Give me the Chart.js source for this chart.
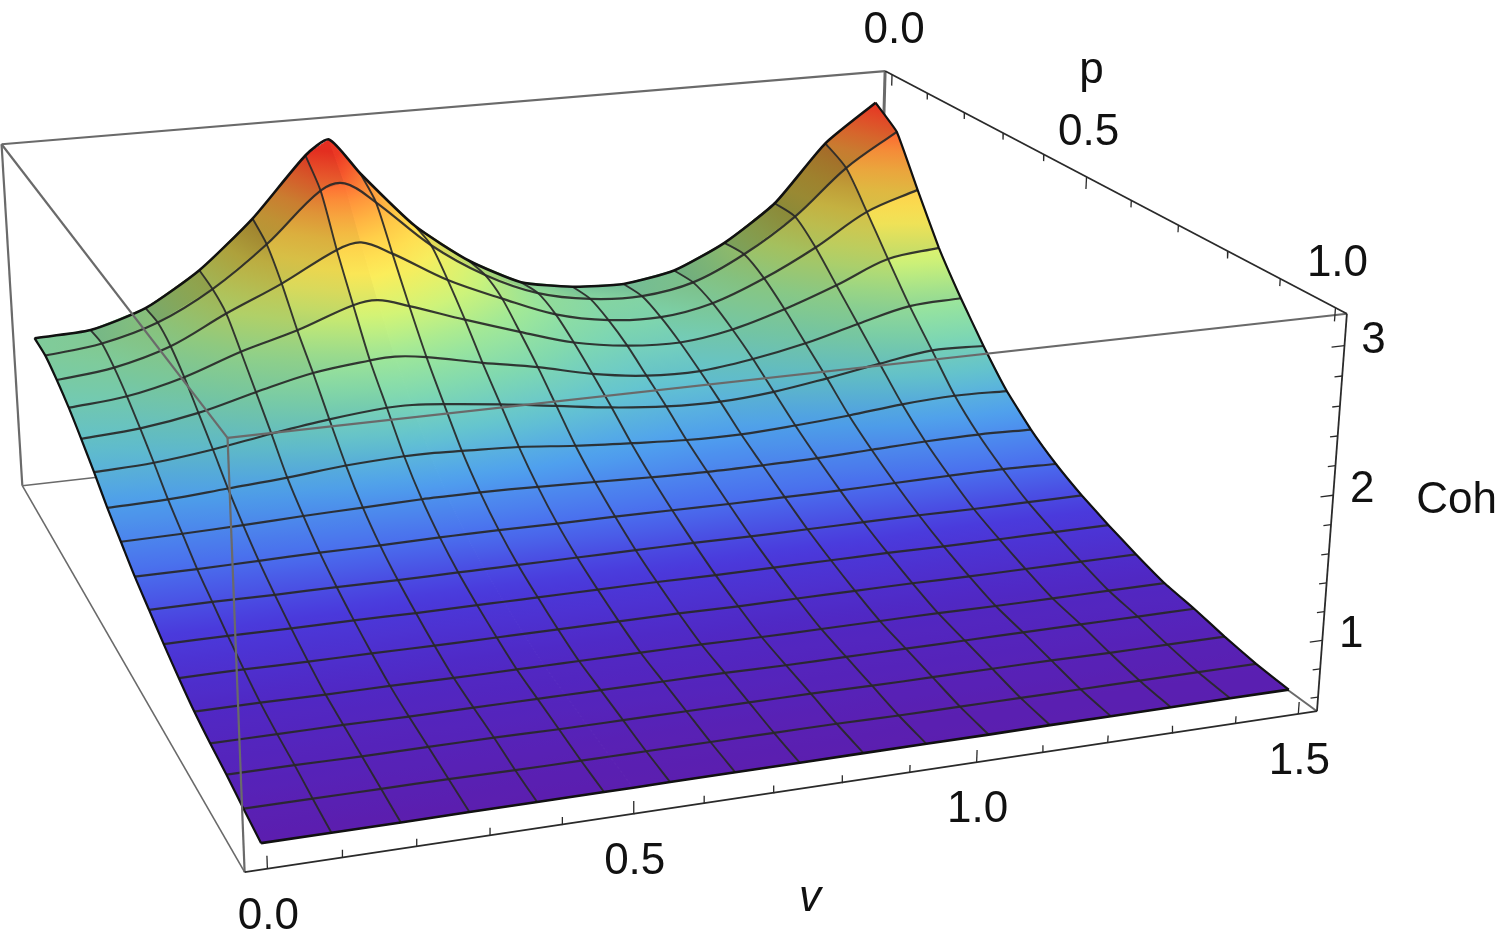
<!DOCTYPE html>
<html>
<head>
<meta charset="utf-8">
<title>Coh(v, p)</title>
<script src="https://cdn.jsdelivr.net/npm/chart.js@4"></script>
<style>
html, body { margin: 0; padding: 0; background: #fff; }
canvas { display: block; }
</style>
</head>
<body>
<canvas id="surface" width="1500" height="941"></canvas>
<script>
// surface samples
// v = 0.51 is one extra column (the top of the first ridge), it has no mesh line
var vGrid = [0, 0.09375, 0.1875, 0.28125, 0.375, 0.46875, 0.51, 0.5625, 0.65625, 0.75, 0.84375, 0.9375, 1.03125, 1.125, 1.21875, 1.3125, 1.40625, 1.5];
var pGrid = [0, 0.0625, 0.125, 0.1875, 0.25, 0.3125, 0.375, 0.4375, 0.5, 0.5625, 0.625, 0.6875, 0.75, 0.8125, 0.875, 0.9375, 1];
var noMeshColumn = 6;

var row0 = [1.72, 1.74, 1.87, 2.13, 2.50, 2.96, 3.07, 2.78, 2.32, 2.00, 1.78, 1.70, 1.68, 1.75, 1.94, 2.23, 2.69, 2.99];
var row1 = [1.71, 1.76, 1.88, 2.10, 2.41, 2.79, 2.83, 2.66, 2.28, 2.00, 1.81, 1.72, 1.70, 1.77, 1.96, 2.23, 2.59, 2.85];
var row2 = [1.65, 1.70, 1.82, 2.03, 2.22, 2.44, 2.48, 2.37, 2.12, 1.93, 1.76, 1.67, 1.65, 1.72, 1.88, 2.09, 2.34, 2.48];
var row3 = [1.57, 1.61, 1.71, 1.86, 1.98, 2.13, 2.15, 2.08, 1.93, 1.79, 1.66, 1.59, 1.57, 1.63, 1.75, 1.90, 2.07, 2.12];
var row4 = [1.47, 1.50, 1.57, 1.68, 1.78, 1.83, 1.84, 1.81, 1.72, 1.64, 1.54, 1.48, 1.47, 1.52, 1.60, 1.71, 1.81, 1.83];
var row5 = [1.36, 1.38, 1.43, 1.50, 1.56, 1.60, 1.60, 1.58, 1.53, 1.47, 1.41, 1.37, 1.36, 1.39, 1.45, 1.52, 1.58, 1.57];
var row6 = [1.24, 1.25, 1.28, 1.31, 1.35, 1.37, 1.37, 1.36, 1.34, 1.30, 1.27, 1.245, 1.24, 1.26, 1.29, 1.33, 1.35, 1.34];
var row7 = [1.14, 1.145, 1.155, 1.17, 1.18, 1.19, 1.19, 1.19, 1.18, 1.165, 1.15, 1.14, 1.14, 1.145, 1.16, 1.175, 1.18, 1.17];
var row8 = [1.04, 1.04, 1.045, 1.05, 1.05, 1.055, 1.055, 1.055, 1.05, 1.05, 1.045, 1.04, 1.04, 1.04, 1.045, 1.05, 1.05, 1.04];
var row9 = [0.96, 0.96, 0.955, 0.955, 0.95, 0.95, 0.95, 0.95, 0.95, 0.95, 0.95, 0.945, 0.945, 0.945, 0.945, 0.94, 0.94, 0.94];
var row10 = [0.88, 0.88, 0.875, 0.875, 0.87, 0.87, 0.87, 0.87, 0.87, 0.87, 0.865, 0.865, 0.865, 0.865, 0.86, 0.86, 0.86, 0.86];
var row11 = [0.81, 0.81, 0.805, 0.805, 0.80, 0.80, 0.80, 0.80, 0.80, 0.80, 0.795, 0.795, 0.795, 0.795, 0.79, 0.79, 0.79, 0.79];
var row12 = [0.75, 0.75, 0.745, 0.745, 0.74, 0.74, 0.74, 0.74, 0.74, 0.74, 0.735, 0.735, 0.735, 0.735, 0.73, 0.73, 0.73, 0.73];
var row13 = [0.71, 0.71, 0.71, 0.705, 0.705, 0.705, 0.705, 0.705, 0.705, 0.705, 0.70, 0.70, 0.70, 0.70, 0.70, 0.70, 0.70, 0.70];
var row14 = [0.68, 0.68, 0.675, 0.675, 0.675, 0.67, 0.67, 0.67, 0.67, 0.67, 0.67, 0.665, 0.665, 0.665, 0.665, 0.66, 0.66, 0.66];
var row15 = [0.64, 0.64, 0.64, 0.64, 0.635, 0.635, 0.635, 0.635, 0.635, 0.635, 0.635, 0.63, 0.63, 0.63, 0.63, 0.63, 0.63, 0.63];
var row16 = [0.605, 0.605, 0.605, 0.607, 0.607, 0.608, 0.608, 0.61, 0.61, 0.61, 0.612, 0.612, 0.612, 0.615, 0.615, 0.615, 0.617, 0.617];
var cohRows = [row0, row1, row2, row3, row4, row5, row6, row7, row8, row9, row10, row11, row12, row13, row14, row15, row16];

// axis ticks and their labels
var vTicks = [0, 0.1, 0.2, 0.3, 0.4, 0.5, 0.6, 0.7, 0.8, 0.9, 1.0, 1.1, 1.2, 1.3, 1.4, 1.5];
var pTicks = [0, 0.1, 0.2, 0.3, 0.4, 0.5, 0.6, 0.7, 0.8, 0.9, 1.0];
var cohTicks = [0.6, 0.8, 1.0, 1.2, 1.4, 1.6, 1.8, 2.0, 2.2, 2.4, 2.6, 2.8, 3.0];
var vLabels = [0, 0.5, 1.0, 1.5];
var pLabels = [0, 0.5, 1.0];
var cohLabels = [1, 2, 3];

// plot range of the box
var vRange = [-0.03, 1.53];
var pRange = [-0.02, 1.02];
var cohRange = [0.5, 3.21];

// box corners on screen, [v side, p side, coh side, x, y]; 0 = low end, 1 = high end
var boxCorners = [
    [0, 1, 0, 245, 872],
    [1, 1, 0, 1317, 711],
    [1, 1, 1, 1347, 314],
    [1, 0, 1, 885, 71],
    [0, 0, 1, 2, 144],
    [0, 0, 0, 22, 486],
    [0, 1, 1, 227, 438]
];

// colour by height
var colourZ = [0.55, 0.75, 0.9, 1.05, 1.25, 1.45, 1.65, 1.85, 2.05, 2.3, 2.5, 2.7, 2.85, 3.0];
var colourRGB = [
    [96, 26, 166], [80, 40, 196], [74, 58, 220], [74, 110, 238], [79, 160, 238], [100, 196, 208],
    [128, 216, 176], [160, 232, 152], [208, 244, 120], [255, 236, 88], [255, 205, 72], [255, 154, 60], [255, 100, 48], [245, 50, 35]
];

// fit the camera from the box corners (least squares)
function solveCamera(corners) {
    var n = 11, A = [], b = [], i, j, k;
    for (i = 0; i < n; i++) { A.push(new Array(n).fill(0)); b.push(0); }
    corners.forEach(function (c) {
        var X = c[0], Y = c[1], Z = c[2], x = c[3] / 1000, y = c[4] / 1000;
        var eqs = [
            [[X, Y, Z, 1, 0, 0, 0, 0, -x * X, -x * Y, -x * Z], x],
            [[0, 0, 0, 0, X, Y, Z, 1, -y * X, -y * Y, -y * Z], y]
        ];
        eqs.forEach(function (e) {
            for (i = 0; i < n; i++) {
                for (j = 0; j < n; j++) A[i][j] += e[0][i] * e[0][j];
                b[i] += e[0][i] * e[1];
            }
        });
    });
    for (i = 0; i < n; i++) {
        var best = i;
        for (k = i + 1; k < n; k++) if (Math.abs(A[k][i]) > Math.abs(A[best][i])) best = k;
        var t = A[i]; A[i] = A[best]; A[best] = t;
        t = b[i]; b[i] = b[best]; b[best] = t;
        for (k = i + 1; k < n; k++) {
            var f = A[k][i] / A[i][i];
            for (j = i; j < n; j++) A[k][j] -= f * A[i][j];
            b[k] -= f * b[i];
        }
    }
    var m = new Array(n).fill(0);
    for (i = n - 1; i >= 0; i--) {
        var s = b[i];
        for (j = i + 1; j < n; j++) s -= A[i][j] * m[j];
        m[i] = s / A[i][i];
    }
    return m;
}
var cam = solveCamera(boxCorners);

function project(v, p, z) {
    var X = (v - vRange[0]) / (vRange[1] - vRange[0]);
    var Y = (p - pRange[0]) / (pRange[1] - pRange[0]);
    var Z = (z - cohRange[0]) / (cohRange[1] - cohRange[0]);
    var w = cam[8] * X + cam[9] * Y + cam[10] * Z + 1;
    return {
        x: 1000 * (cam[0] * X + cam[1] * Y + cam[2] * Z + cam[3]) / w,
        y: 1000 * (cam[4] * X + cam[5] * Y + cam[6] * Z + cam[7]) / w
    };
}

function colourAt(z) {
    var i = 0;
    if (z <= colourZ[0]) return colourRGB[0];
    while (i < colourZ.length - 2 && z > colourZ[i + 1]) i++;
    var t = Math.min(1, (z - colourZ[i]) / (colourZ[i + 1] - colourZ[i]));
    return colourRGB[i].map(function (c, n) { return c + (colourRGB[i + 1][n] - c) * t; });
}

// light comes from the right, faces climbing towards high v go dark
function nodeShade(k, j) {
    var row = cohRows[k], last = row.length - 1;
    if (j === last || j === noMeshColumn) return 1 - (k === 0 ? 0.06 : 0);
    var a = Math.max(0, j - 1), b = Math.min(last, j + 1);
    if (a === noMeshColumn) a--;
    if (b === noMeshColumn) b++;
    var slope = (row[b] - row[a]) / (vGrid[b] - vGrid[a]);
    var shade = 1 - 0.08 * Math.max(0, slope);
    if (k < 3) {
        var fall = k < cohRows.length - 1 ? (row[j] - cohRows[k + 1][j]) / 0.0625 : 0;
        shade -= 0.1 * (3 - k) / 3 * Math.max(0, 1 - fall / 2);
    }
    return Math.max(0.5, shade);
}

function rgbString(c, shade) {
    return 'rgb(' + Math.round(c[0] * shade) + ',' + Math.round(c[1] * shade) + ',' + Math.round(c[2] * shade) + ')';
}

// gradient of one mesh cell: follows the height inside the cell
function cellGradient(chart, nodes) {
    var xs = chart.scales.x, ys = chart.scales.y, xc = 0, yc = 0, zc = 0;
    var pts = nodes.map(function (n) {
        var q = project(vGrid[n.j], pGrid[n.k], cohRows[n.k][n.j]);
        return { x: xs.getPixelForValue(q.x), y: ys.getPixelForValue(q.y), z: cohRows[n.k][n.j], s: nodeShade(n.k, n.j) };
    });
    pts.forEach(function (q) { xc += q.x / 4; yc += q.y / 4; zc += q.z / 4; });
    var sxx = 0, sxy = 0, syy = 0, sxz = 0, syz = 0;
    pts.forEach(function (q) {
        var dx = q.x - xc, dy = q.y - yc, dz = q.z - zc;
        sxx += dx * dx; sxy += dx * dy; syy += dy * dy; sxz += dx * dz; syz += dy * dz;
    });
    var det = sxx * syy - sxy * sxy;
    var a = (sxz * syy - syz * sxy) / det, b = (syz * sxx - sxz * sxy) / det;
    var g2 = a * a + b * b;
    var lo = pts[0], hi = pts[0];
    pts.forEach(function (q) { if (q.z < lo.z) lo = q; if (q.z > hi.z) hi = q; });
    if (!(g2 > 1e-12)) return rgbString(colourAt(zc), (lo.s + hi.s) / 2);
    var grad = chart.ctx.createLinearGradient(
        xc + a * (lo.z - zc) / g2, yc + b * (lo.z - zc) / g2,
        xc + a * (hi.z - zc) / g2, yc + b * (hi.z - zc) / g2
    );
    for (var t = 0; t <= 1.001; t += 0.25) {
        var s = Math.min(t, 1);
        grad.addColorStop(s, rgbString(colourAt(lo.z + (hi.z - lo.z) * s), lo.s + (hi.s - lo.s) * s));
    }
    return grad;
}

var datasets = [];

function addLine(points, colour, width, tension) {
    datasets.push({
        data: points, showLine: true, fill: false, pointRadius: 0, clip: false,
        borderColor: colour, borderWidth: width, tension: tension || 0
    });
}

function boxPoint(a, b, c) {
    return project(vRange[a], pRange[b], cohRange[c]);
}

// back edges of the box, behind the surface
var backGrey = '#6a6a6a';
addLine([boxPoint(0, 0, 0), boxPoint(0, 0, 1)], backGrey, 2.2);
addLine([boxPoint(0, 0, 1), boxPoint(1, 0, 1)], backGrey, 2.2);
addLine([boxPoint(1, 0, 1), boxPoint(1, 0, 0)], backGrey, 3);
addLine([boxPoint(0, 0, 0), boxPoint(1, 0, 0)], backGrey, 1.6);
addLine([boxPoint(1, 0, 0), boxPoint(1, 1, 0)], backGrey, 2);
addLine([boxPoint(0, 0, 0), boxPoint(0, 1, 0)], backGrey, 1.6);

// surface cells, far rows first
pGrid.slice(1).forEach(function (pv, k) {
    vGrid.slice(1).forEach(function (vv, j) {
        var nodes = [{ k: k, j: j }, { k: k, j: j + 1 }, { k: k + 1, j: j + 1 }, { k: k + 1, j: j }];
        var pts = nodes.map(function (n) { return project(vGrid[n.j], pGrid[n.k], cohRows[n.k][n.j]); });
        pts.push(pts[0]);
        var paint = function (ctx) { return cellGradient(ctx.chart, nodes); };
        datasets.push({
            data: pts, showLine: true, fill: 'shape', pointRadius: 0, clip: false, tension: 0,
            backgroundColor: paint, borderColor: paint, borderWidth: 1
        });
    });
});

// mesh lines
var meshColour = 'rgba(40,40,40,0.92)';
cohRows.forEach(function (row, k) {
    var pts = row.map(function (z, j) { return project(vGrid[j], pGrid[k], z); });
    if (k > 0 && k < cohRows.length - 1) addLine(pts, meshColour, 2.2, 0.35);
});
vGrid.forEach(function (v, j) {
    if (j === 0 || j === vGrid.length - 1 || j === noMeshColumn) return;
    var pts = cohRows.map(function (row, k) { return project(v, pGrid[k], row[j]); });
    addLine(pts, meshColour, 1.9, 0.25);
});

// outline of the surface
var lastRow = cohRows.length - 1, lastCol = vGrid.length - 1;
addLine(row0.map(function (z, j) { return project(vGrid[j], pGrid[0], z); }), '#111', 2.6, 0.2);
addLine(cohRows[lastRow].map(function (z, j) { return project(vGrid[j], pGrid[lastRow], z); }), '#111', 2.6, 0);
addLine(cohRows.map(function (row, k) { return project(vGrid[0], pGrid[k], row[0]); }), '#111', 2.2, 0.25);
addLine(cohRows.map(function (row, k) { return project(vGrid[lastCol], pGrid[k], row[lastCol]); }), '#111', 2.2, 0.1);

// edges in front of the surface
addLine([boxPoint(0, 0, 1), boxPoint(0, 1, 1)], backGrey, 2.2);
addLine([boxPoint(0, 1, 1), boxPoint(1, 1, 1)], backGrey, 2.2);
addLine([boxPoint(0, 1, 1), boxPoint(0, 1, 0)], backGrey, 2.2);

// the three axes with ticks
var axisColour = '#2a2a2a';
addLine([boxPoint(0, 1, 0), boxPoint(1, 1, 0)], axisColour, 1.8);
addLine([boxPoint(1, 1, 0), boxPoint(1, 1, 1)], axisColour, 1.8);
addLine([boxPoint(1, 1, 1), boxPoint(1, 0, 1)], axisColour, 1.8);
vTicks.forEach(function (v) {
    var len = vLabels.indexOf(v) >= 0 ? 0.085 : 0.05;
    addLine([project(v, pRange[1], cohRange[0]), project(v, pRange[1], cohRange[0] + len)], axisColour, 1.3);
});
pTicks.forEach(function (p) {
    var len = pLabels.indexOf(p) >= 0 ? 0.09 : 0.05;
    addLine([project(vRange[1], p, cohRange[1]), project(vRange[1], p, cohRange[1] - len)], axisColour, 1.3);
});
cohTicks.forEach(function (z) {
    var len = cohLabels.indexOf(z) >= 0 ? 0.02 : 0.012;
    addLine([project(vRange[1], pRange[1], z), project(vRange[1] - len, pRange[1], z)], axisColour, 1.3);
});

// first dataset is painted last, so flip the list
datasets.reverse();

var axisText = {
    id: 'axisText',
    afterDatasetsDraw: function (chart) {
        var ctx = chart.ctx;
        function put(text, pos, dx, dy, italic) {
            ctx.font = (italic ? 'italic ' : '') + '44px "Liberation Sans", Arial, sans-serif';
            ctx.fillText(text, chart.scales.x.getPixelForValue(pos.x) + dx, chart.scales.y.getPixelForValue(pos.y) + dy);
        }
        ctx.save();
        ctx.fillStyle = '#111';
        ctx.textAlign = 'center';
        ctx.textBaseline = 'middle';
        vLabels.forEach(function (v) { put(v.toFixed(1), project(v, pRange[1], cohRange[0]), 1, 48); });
        pLabels.forEach(function (p) { put(p.toFixed(1), project(vRange[1], p, cohRange[1]), 2, -44); });
        cohLabels.forEach(function (z) { put(String(z), project(vRange[1], pRange[1], z), 29, -5); });
        put('v', project(0.75, pRange[1], cohRange[0]), 2, 111, true);
        put('p', project(vRange[1], 0.5, cohRange[1]), 5, -106, false);
        put('Coh', project(vRange[1], pRange[1], 1.95), 124, -2, false);
        ctx.restore();
    }
};

var ctx = document.getElementById('surface').getContext('2d');
var surfaceChart = new Chart(ctx, {
    type: 'scatter',
    data: { datasets: datasets },
    plugins: [axisText],
    options: {
        responsive: false,
        animation: false,
        events: [],
        layout: { padding: 0 },
        plugins: { legend: { display: false }, tooltip: { enabled: false } },
        scales: {
            x: { type: 'linear', display: false, min: 0, max: 1500 },
            y: { type: 'linear', display: false, min: 0, max: 941, reverse: true }
        }
    }
});
</script>
</body>
</html>
